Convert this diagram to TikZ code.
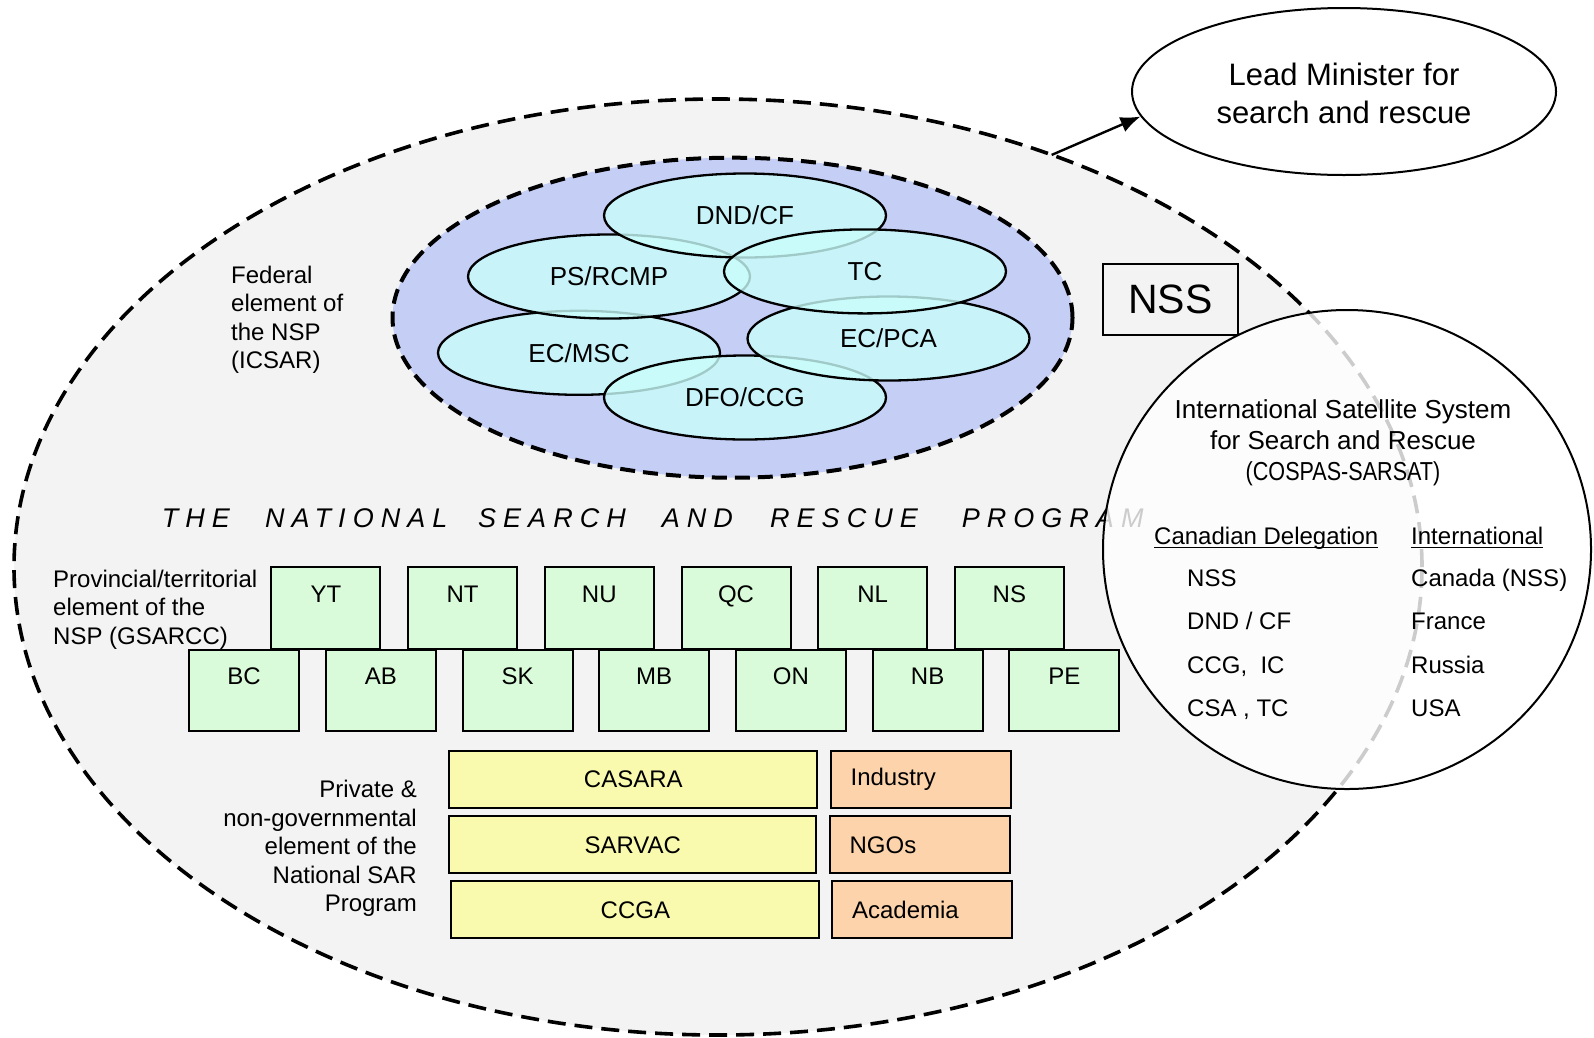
\documentclass[tikz,border=0pt]{standalone}
\usepackage{fontspec}
\setmainfont{Liberation Sans}
\newfontfamily\progfont[LetterSpace=26]{Liberation Sans}
\newfontfamily\narrowfont[FakeStretch=0.83]{Liberation Sans}
\usetikzlibrary{shapes.geometric,arrows.meta}

\definecolor{bggray}{HTML}{F3F3F3}
\definecolor{fedblue}{HTML}{C5CFF5}
\definecolor{agcyan}{HTML}{C9FDFB}
\definecolor{provgreen}{HTML}{D9FBD9}
\definecolor{privyellow}{HTML}{FAFAAF}
\definecolor{ngoorange}{HTML}{FCD3AA}

\newcommand\setfs[2]{\fontsize{#1}{#2}\selectfont}
\newcommand\undl[1]{\setbox0\hbox{#1}\rlap{\rule[-3.5pt]{\wd0}{1.6pt}}\box0}

\begin{document}
\begin{tikzpicture}[x=1pt,y=-1pt,
    agency/.style={ellipse, draw, line width=2.3pt, fill=agcyan, fill opacity=0.8, text opacity=1,
      minimum width=282pt, minimum height=84pt, inner sep=0pt, font=\setfs{26}{31}},
    provbox/.style={draw, line width=2pt, fill=provgreen, anchor=north west, minimum width=109pt,
      inner xsep=0pt, inner ysep=7pt, text height=28pt, text depth=39.6pt, font=\setfs{24}{28}},
    privbox/.style={draw, line width=2pt, fill=privyellow, minimum height=57pt, inner sep=0pt,
      font=\setfs{24}{28}},
    ngobox/.style={draw, line width=2pt, fill=ngoorange, minimum height=57pt, text width=140pt,
      align=left, inner xsep=20pt, inner ysep=0pt, font=\setfs{24}{28}},
    note/.style={inner sep=0pt, font=\setfs{24}{28.5}}]
    \useasboundingbox (0,0) rectangle (1594,1037);

    % the national program
    \node[ellipse, draw, line width=3.6pt, dash pattern=on 18pt off 9pt, fill=bggray,
      minimum width=1408pt, minimum height=936pt, inner sep=0pt, outer sep=0pt] (nsp) at (718,567) {};

    % federal element
    \node[ellipse, draw, line width=4pt, dash pattern=on 15pt off 8pt, fill=fedblue,
      minimum width=680pt, minimum height=320pt, inner sep=0pt] (icsar) at (732.5,317.7) {};
    \node[agency] (ecmsc) at (579,352.8) {EC/MSC};
    \node[agency] (dfo) at (745,397.5) {DFO/CCG};
    \node[agency] (ecpca) at (888.5,338.5) {EC/PCA};
    \node[agency] (ps) at (609,276.5) {PS/RCMP};
    \node[agency] (dnd) at (745,215.5) {DND/CF};
    \node[agency] (tc) at (865,271.4) {TC};

    \node[note, align=left, anchor=north west] (fedtxt) at (231,265.6) {Federal\\element of\\the NSP\\(ICSAR)};

    \node[draw, line width=2pt, minimum width=135pt, minimum height=70.5pt, inner sep=0pt,
      font=\setfs{41}{48}] (nss) at (1170.5,299.3) {NSS};

    \foreach \w/\x in {THE/161.7, NATIONAL/265, SEARCH/478, AND/661.7, RESCUE/770, PROGRAM/961.7}
      \node[anchor=base west, inner sep=0pt, font=\progfont\itshape\setfs{27}{32}] (w\w) at (\x,527.3) {\w};

    % provincial / territorial element
    \node[note, align=left, anchor=north west] (provtxt) at (53,569.5) {Provincial/territorial\\element of the\\NSP (GSARCC)};
    \foreach \p [count=\i from 0] in {YT,NT,NU,QC,NL,NS}
      \node[provbox] (\p) at ({270.4+136.7*\i},566) {\p};
    \foreach \p [count=\i from 0] in {BC,AB,SK,MB,ON,NB,PE}
      \node[provbox, minimum width=110pt] (\p) at ({188.1+136.7*\i},648.6) {\p};

    % private and non-governmental element
    \node[note, align=right, anchor=north east] (privtxt) at (417,780) {Private \&\\non-governmental\\element of the\\National SAR\\Program};
    \node[privbox, minimum width=368pt] (casara) at (633.3,779.2) {CASARA};
    \node[privbox, minimum width=367pt] (sarvac) at (632.8,844.8) {SARVAC};
    \node[privbox, minimum width=368pt] (ccga) at (635.4,909.9) {CCGA};
    \node[ngobox] (industry) at (920.6,779.2) {Industry};
    \node[ngobox] (ngos) at (919.6,844.8) {NGOs};
    \node[ngobox] (academia) at (922.1,909.9) {Academia};

    % cospas-sarsat
    \node[ellipse, draw, line width=2pt, fill=white, fill opacity=0.8, minimum width=488pt,
      minimum height=479pt, inner sep=0pt] (cospas) at (1347,549.5) {};
    \node[align=center, anchor=north, inner sep=0pt, font=\setfs{26}{31}] (cstitle) at (1343,399)
      {International Satellite System\\for Search and Rescue\\{\narrowfont\setfs{26}{33}(COSPAS-SARSAT)}};
    \node[note, anchor=base west] (cdhead) at (1154,544.6) {\undl{Canadian Delegation}};
    \node[note, anchor=base west] (inthead) at (1411,544.6) {\undl{International}};
    \foreach \t [count=\i from 0] in {NSS, DND / CF, {CCG,\ \ IC}, {CSA , TC}}
      \node[note, anchor=base west] (cd\i) at (1187,{586.6+43.2*\i}) {\t};
    \foreach \t [count=\i from 0] in {Canada (NSS), France, Russia, USA}
      \node[note, anchor=base west] (int\i) at (1411,{586.6+43.2*\i}) {\t};

    % lead minister
    \node[ellipse, draw, line width=2pt, minimum width=424pt, minimum height=167pt, inner sep=0pt] (lead) at (1344,91.5) {};
    \node[align=center, anchor=north, inner sep=0pt, font=\setfs{31}{38}] (leadtxt) at (1344,62.4) {Lead Minister for\\search and rescue};
    \draw[line width=2.4pt, -{Latex[length=20pt,width=16pt]}] (nsp.51.3) -- (lead.187);
  \end{tikzpicture}
\end{document}
